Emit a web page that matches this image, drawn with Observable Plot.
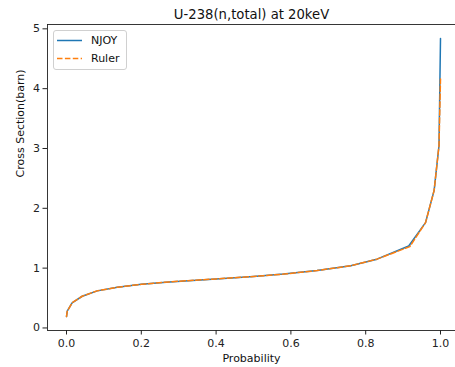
<!DOCTYPE html>
<html>
<head>
<meta charset="utf-8">
<script src="https://cdn.jsdelivr.net/npm/d3@7"></script>
<script src="https://cdn.jsdelivr.net/npm/@observablehq/plot@0.6"></script>
<style>
  html, body { margin: 0; padding: 0; background: #fff; }
  #wrap { position: relative; width: 455px; height: 367px; overflow: hidden; font-family: "DejaVu Sans", sans-serif; }
  #legend { position: absolute; left: 53px; top: 30px; width: 72px; height: 38px; border: 1px solid #d0d0d0; border-radius: 3px; background: rgba(255,255,255,0.85); }
</style>
</head>
<body>
<div id="wrap"></div>
<script>
const title = "U-238(n,total) at 20keV";
const xLabel = "Probability";
const yLabel = "Cross Section(barn)";
const seriesNames = ["NJOY", "Ruler"];
const seriesColors = ["#1f77b4", "#ff7f0e"];
const xTicks = [0, 0.2, 0.4, 0.6, 0.8, 1.0];
const yTicks = [0, 1, 2, 3, 4, 5];

const njoyProb = [0, 0.002, 0.015, 0.042, 0.082, 0.136, 0.2, 0.275, 0.4, 0.5, 0.58, 0.67, 0.76, 0.83, 0.915, 0.96, 0.983, 0.996, 1.0];
const njoyXS   = [0.19, 0.28, 0.42, 0.53, 0.62, 0.68, 0.73, 0.77, 0.82, 0.86, 0.9, 0.96, 1.04, 1.15, 1.37, 1.76, 2.3, 3.05, 4.84];
const rulerProb = [0, 0.002, 0.015, 0.042, 0.082, 0.136, 0.2, 0.275, 0.4, 0.5, 0.58, 0.67, 0.76, 0.83, 0.918, 0.96, 0.983, 0.996, 1.0];
const rulerXS   = [0.19, 0.28, 0.42, 0.53, 0.62, 0.68, 0.73, 0.77, 0.82, 0.86, 0.9, 0.96, 1.04, 1.15, 1.36, 1.76, 2.3, 3.05, 4.16];

const njoy = njoyProb.map((p, i) => ({p, v: njoyXS[i]}));
const ruler = rulerProb.map((p, i) => ({p, v: rulerXS[i]}));

const chart = Plot.plot({
  width: 455,
  height: 367,
  marginLeft: 47,
  marginRight: 0,
  marginTop: 24,
  marginBottom: 37,
  style: { fontFamily: "DejaVu Sans, sans-serif", fontSize: "11px", background: "#fff", color: "#222" },
  x: { domain: [-0.05, 1.05], range: [47.3, 458.7] },
  y: { domain: [-0.0425, 5.0725] },
  marks: [
    Plot.line(njoy, { x: "p", y: "v", stroke: seriesColors[0], strokeWidth: 1.5 }),
    Plot.line(ruler, { x: "p", y: "v", stroke: seriesColors[1], strokeWidth: 1.5, strokeDasharray: "5.5,2.4" }),
    Plot.frame({ stroke: "#222", strokeWidth: 0.9 }),
    Plot.axisX({ ticks: xTicks, tickFormat: d3.format(".1f"), tickSize: 4.5, tickPadding: 4, label: null, stroke: "#222", fill: "#222" }),
    Plot.axisY({ ticks: yTicks, tickFormat: d3.format("d"), tickSize: 4.5, tickPadding: 3, label: null, stroke: "#222", fill: "#222" }),
    Plot.text([title], { frameAnchor: "top", lineAnchor: "middle", dy: -10, fontSize: 13.2, fill: "#111" }),
    Plot.text([xLabel], { frameAnchor: "bottom", lineAnchor: "middle", dy: 28, fontSize: 11, fill: "#111" }),
    Plot.text([yLabel], { frameAnchor: "left", dx: -27, rotate: -90, fontSize: 11, fill: "#111" })
  ]
});

const wrap = document.getElementById("wrap");
wrap.appendChild(chart);

const legend = document.createElement("div");
legend.id = "legend";
const ns = "http://www.w3.org/2000/svg";
const lsvg = document.createElementNS(ns, "svg");
lsvg.setAttribute("width", 72);
lsvg.setAttribute("height", 38);
lsvg.style.display = "block";
seriesNames.forEach((name, i) => {
  const y = 9.5 + i * 18;
  const line = document.createElementNS(ns, "line");
  line.setAttribute("x1", 3);
  line.setAttribute("x2", 28);
  line.setAttribute("y1", y);
  line.setAttribute("y2", y);
  line.setAttribute("stroke", seriesColors[i]);
  line.setAttribute("stroke-width", 1.5);
  if (i === 1) line.setAttribute("stroke-dasharray", "5.5,2.4");
  lsvg.appendChild(line);
  const t = document.createElementNS(ns, "text");
  t.setAttribute("x", 37);
  t.setAttribute("y", y);
  t.setAttribute("dy", "0.35em");
  t.setAttribute("font-size", 11);
  t.setAttribute("font-family", "DejaVu Sans, sans-serif");
  t.setAttribute("fill", "#111");
  t.textContent = name;
  lsvg.appendChild(t);
});
legend.appendChild(lsvg);
wrap.appendChild(legend);
</script>
</body>
</html>
